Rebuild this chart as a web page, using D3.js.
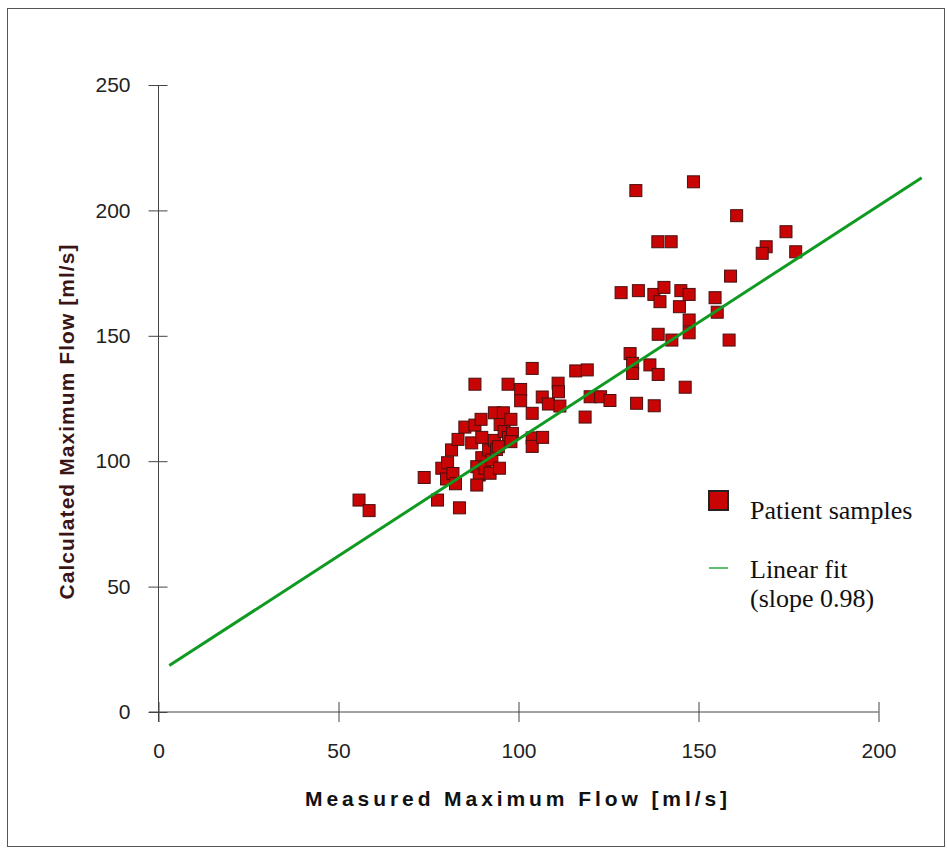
<!DOCTYPE html>
<html>
  <head>
    <meta charset="utf-8">
    <title></title>
    <style>
      body { margin: 0; background: #fff; }
    </style>
  </head>
  <body>
    <div id="chart"></div>
    <script src="https://d3js.org/d3.v7.min.js"></script>
    <script>

      const width = 947;
      const height = 850;

      // measured vs calculated maximum flow
      const measured = [
        55.7, 58.5, 73.8, 77.5, 83.6, 78.7, 80.3, 80.0, 81.8, 82.5,
        81.4, 83.2, 85.1, 87.0, 87.9, 89.6, 89.8, 89.8, 88.4, 89.1,
        88.4, 90.7, 91.7, 92.1, 92.6, 93.3, 93.9, 94.7, 87.9, 93.3,
        95.8, 94.9, 96.0, 97.2, 97.1, 97.9, 98.3, 97.9, 94.4, 100.6,
        100.6, 103.8, 103.8, 103.8, 103.8, 106.7, 106.6, 108.3, 111.0, 111.1,
        111.5, 115.9, 119.1, 118.5, 119.9, 122.8, 125.4, 131.0, 131.7, 131.7,
        136.5, 138.8, 132.8, 137.7, 146.3, 132.6, 148.6, 138.7, 142.4, 128.5,
        133.3, 137.6, 140.4, 139.3, 145.1, 147.4, 144.7, 147.4, 147.4, 138.8,
        142.6, 160.6, 174.3, 168.8, 167.7, 177.0, 158.9, 154.6, 155.2, 158.5
      ];
      const calculated = [
        84.5, 80.3, 93.5, 84.5, 81.4, 97.2, 99.4, 92.9, 95.1, 91.0,
        104.5, 108.7, 113.6, 107.3, 114.4, 116.7, 109.5, 101.4, 97.8, 94.5,
        90.5, 97.2, 104.5, 95.2, 100.5, 108.3, 104.7, 97.2, 130.7, 119.3,
        119.3, 114.6, 111.8, 109.5, 130.7, 116.7, 111.1, 107.8, 105.8, 128.6,
        124.1, 137.0, 119.1, 109.3, 105.9, 109.5, 125.6, 122.8, 131.1, 127.7,
        122.0, 136.0, 136.4, 117.6, 125.7, 125.7, 124.2, 142.9, 139.0, 135.0,
        138.4, 134.6, 123.1, 122.1, 129.5, 207.9, 211.4, 187.5, 187.5, 167.2,
        168.0, 166.5, 169.3, 163.6, 168.0, 166.5, 161.6, 156.3, 151.2, 150.6,
        148.3, 197.9, 191.5, 185.5, 182.9, 183.5, 173.8, 165.2, 159.4, 148.3
      ];

      // fitted line end points
      const fitX = [3, 212];
      const fitY = [18.5, 213];

      const xTicks = [0, 50, 100, 150, 200];
      const yTicks = [0, 50, 100, 150, 200, 250];

      const legendLabels = ['Patient samples', 'Linear fit', '(slope 0.98)'];

      const svg = d3.select('#chart')
                    .append('svg')
                    .attr('width', width)
                    .attr('height', height)

      svg.append('rect')
        .attr('x', 7.5).attr('y', 8.5)
        .attr('width', 937).attr('height', 838)
        .attr('fill', 'none')
        .attr('stroke', '#555')

      const x = d3.scaleLinear().domain([0, 200]).range([158.5, 878.5]);
      const y = d3.scaleLinear().domain([0, 250]).range([712, 85]);

      const sans = 'Liberation Sans, Arial, sans-serif'

      // x axis, ticks cross the line
      const gx = svg.append('g')
        .attr('transform', 'translate(0,' + y(0) + ')')
        .call(d3.axisBottom(x).tickValues(xTicks).tickSize(0).tickPadding(31))
      gx.select('.domain').remove()
      gx.selectAll('.tick line').attr('y1', -10).attr('y2', 10).attr('stroke', '#444')
      gx.selectAll('.tick text')
        .attr('font-family', sans)
        .attr('font-size', 21)
        .attr('fill', '#222')
      svg.append('line')
        .attr('x1', 149).attr('x2', x(200))
        .attr('y1', y(0)).attr('y2', y(0))
        .attr('stroke', '#444')

      // y axis
      const gy = svg.append('g')
        .attr('transform', 'translate(' + x(0) + ',0)')
        .call(d3.axisLeft(y).tickValues(yTicks).tickSize(0).tickPadding(28))
      gy.select('.domain').remove()
      gy.selectAll('.tick line').attr('x1', -10).attr('x2', 9).attr('stroke', '#444')
      gy.selectAll('.tick text')
        .attr('font-family', sans)
        .attr('font-size', 21)
        .attr('fill', '#222')
      svg.append('line')
        .attr('x1', x(0)).attr('x2', x(0))
        .attr('y1', y(250)).attr('y2', y(0) + 10)
        .attr('stroke', '#444')

      // titles
      svg.append('text')
        .attr('x', 516).attr('y', 806)
        .attr('text-anchor', 'middle')
        .attr('font-family', sans)
        .attr('font-weight', 'bold')
        .attr('font-size', 21)
        .attr('textLength', 422)
        .attr('lengthAdjust', 'spacing')
        .attr('fill', '#111')
        .text('Measured Maximum Flow [ml/s]')

      svg.append('text')
        .attr('transform', 'translate(74,422) rotate(-90)')
        .attr('text-anchor', 'middle')
        .attr('font-family', sans)
        .attr('font-weight', 'bold')
        .attr('font-size', 21)
        .attr('textLength', 355)
        .attr('lengthAdjust', 'spacing')
        .attr('fill', '#3a1515')
        .text('Calculated Maximum Flow [ml/s]')

      // points
      const pts = d3.zip(measured, calculated)
      const size = 12
      svg.append('g')
        .selectAll('rect')
        .data(pts)
        .enter()
        .append('rect')
        .attr('x', (d) => x(d[0]) - size / 2)
        .attr('y', (d) => y(d[1]) - size / 2)
        .attr('width', size)
        .attr('height', size)
        .attr('fill', '#c80404')
        .attr('stroke', '#4a1010')
        .attr('stroke-width', 1)

      // fit line
      const line = d3.line().x((d) => x(d[0])).y((d) => y(d[1]))
      svg.append('path')
        .attr('d', line(d3.zip(fitX, fitY)))
        .attr('fill', 'none')
        .attr('stroke', '#109a22')
        .attr('stroke-width', 3)

      // legend
      const serif = 'Liberation Serif, Times New Roman, serif'
      svg.append('rect')
        .attr('x', 709).attr('y', 491)
        .attr('width', 19).attr('height', 19)
        .attr('fill', '#c80404')
        .attr('stroke', '#222')
        .attr('stroke-width', 2)
      svg.append('line')
        .attr('x1', 709).attr('x2', 728)
        .attr('y1', 568).attr('y2', 568)
        .attr('stroke', '#2aa83a')
        .attr('stroke-width', 1.5)

      svg.selectAll('.leg')
        .data(legendLabels)
        .enter()
        .append('text')
        .attr('class', 'leg')
        .attr('x', 750)
        .attr('y', (d, i) => [519, 578, 607][i])
        .attr('font-family', serif)
        .attr('font-size', 26)
        .attr('fill', '#111')
        .text((d) => d)

    </script>
  </body>
</html>
